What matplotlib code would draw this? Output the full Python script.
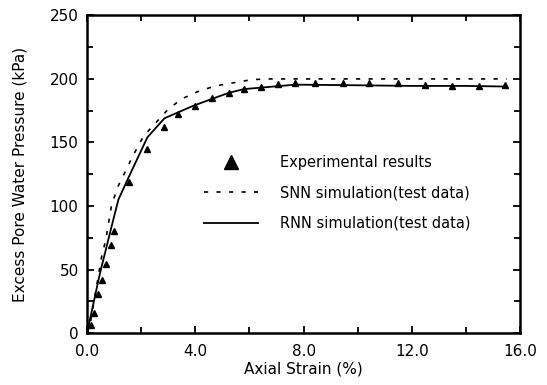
import matplotlib
matplotlib.use("Agg")
import matplotlib.pyplot as plt
from matplotlib.lines import Line2D
from matplotlib.ticker import MultipleLocator, FormatStrFormatter

# Experimental results (triangles)
exp_strain = [0.14, 0.27, 0.42, 0.57, 0.69, 0.88, 1.01, 1.57, 2.21, 2.85, 3.35, 3.99,
              4.63, 5.26, 5.79, 6.41, 7.06, 7.70, 8.44, 9.47, 10.42, 11.47, 12.48,
              13.47, 14.49, 15.44]
exp_pwp = [6, 16, 31, 42, 54, 69, 80, 119, 145, 162, 172, 179,
           185, 189, 192, 194, 196, 197, 197, 197, 196.5, 196.5, 195,
           194.5, 194.5, 195]

# SNN simulation (dotted)
snn_strain = [0.0, 0.11, 0.54, 0.70, 0.91, 1.16, 1.71, 2.09, 2.52, 2.95, 3.47, 4.09,
              4.74, 5.42, 6.10, 6.78, 8.0, 10.0, 12.0, 14.0, 15.5]
snn_pwp = [0, 6, 60, 74, 101, 116, 140, 155, 165, 175, 184, 190,
           194.5, 197, 199.5, 200, 200, 200, 200, 200, 200]

# RNN simulation (solid)
rnn_strain = [0.0, 0.48, 0.91, 1.16, 1.57, 2.23, 2.86, 3.94, 5.23, 5.80, 7.70, 10.0,
              12.0, 14.0, 15.5]
rnn_pwp = [0, 47, 84, 105, 124, 154, 169, 179, 189, 192, 195.5, 195,
           194.5, 194.5, 194]

labels = ["Experimental results", "SNN simulation(test data)", "RNN simulation(test data)"]

fig = plt.figure(figsize=(5.47, 3.85), dpi=100)
ax = fig.add_axes([0.159, 0.135, 0.792, 0.825])

ax.plot(rnn_strain, rnn_pwp, color="black", lw=1.3)
ax.plot(snn_strain, snn_pwp, color="black", lw=1.2, linestyle=(0, (2.5, 5)))
ax.plot(exp_strain, exp_pwp, linestyle="none", marker="^", color="black", markersize=4.5)

ax.set_xlim(0, 16)
ax.set_ylim(0, 250)
ax.xaxis.set_major_locator(MultipleLocator(4))
ax.xaxis.set_minor_locator(MultipleLocator(2))
ax.yaxis.set_major_locator(MultipleLocator(50))
ax.yaxis.set_minor_locator(MultipleLocator(25))
ax.xaxis.set_major_formatter(FormatStrFormatter("%.1f"))
ax.tick_params(which="both", direction="in", top=True, right=True, width=1.3, labelsize=11)
ax.tick_params(which="major", length=5)
ax.tick_params(which="minor", length=4)
ax.tick_params(axis="x", which="major", pad=8)
ax.tick_params(axis="y", which="major", pad=6)
for s in ax.spines.values():
    s.set_linewidth(1.8)

ax.set_xlabel("Axial Strain (%)", fontsize=11, labelpad=2)
ax.set_ylabel("Excess Pore Water Pressure (kPa)", fontsize=11, labelpad=16)

handles = [
    Line2D([], [], linestyle="none", marker="^", color="black", markersize=10),
    Line2D([], [], color="black", lw=1.2, linestyle=(0, (2.5, 5))),
    Line2D([], [], color="black", lw=1.3),
]
ax.legend(handles, labels, loc="upper left", bbox_to_anchor=(0.27, 0.56),
          frameon=False, fontsize=10.5, handlelength=3.7, handletextpad=1.5,
          labelspacing=1.05, borderpad=0, borderaxespad=0)

fig.savefig("out.png", dpi=100)
